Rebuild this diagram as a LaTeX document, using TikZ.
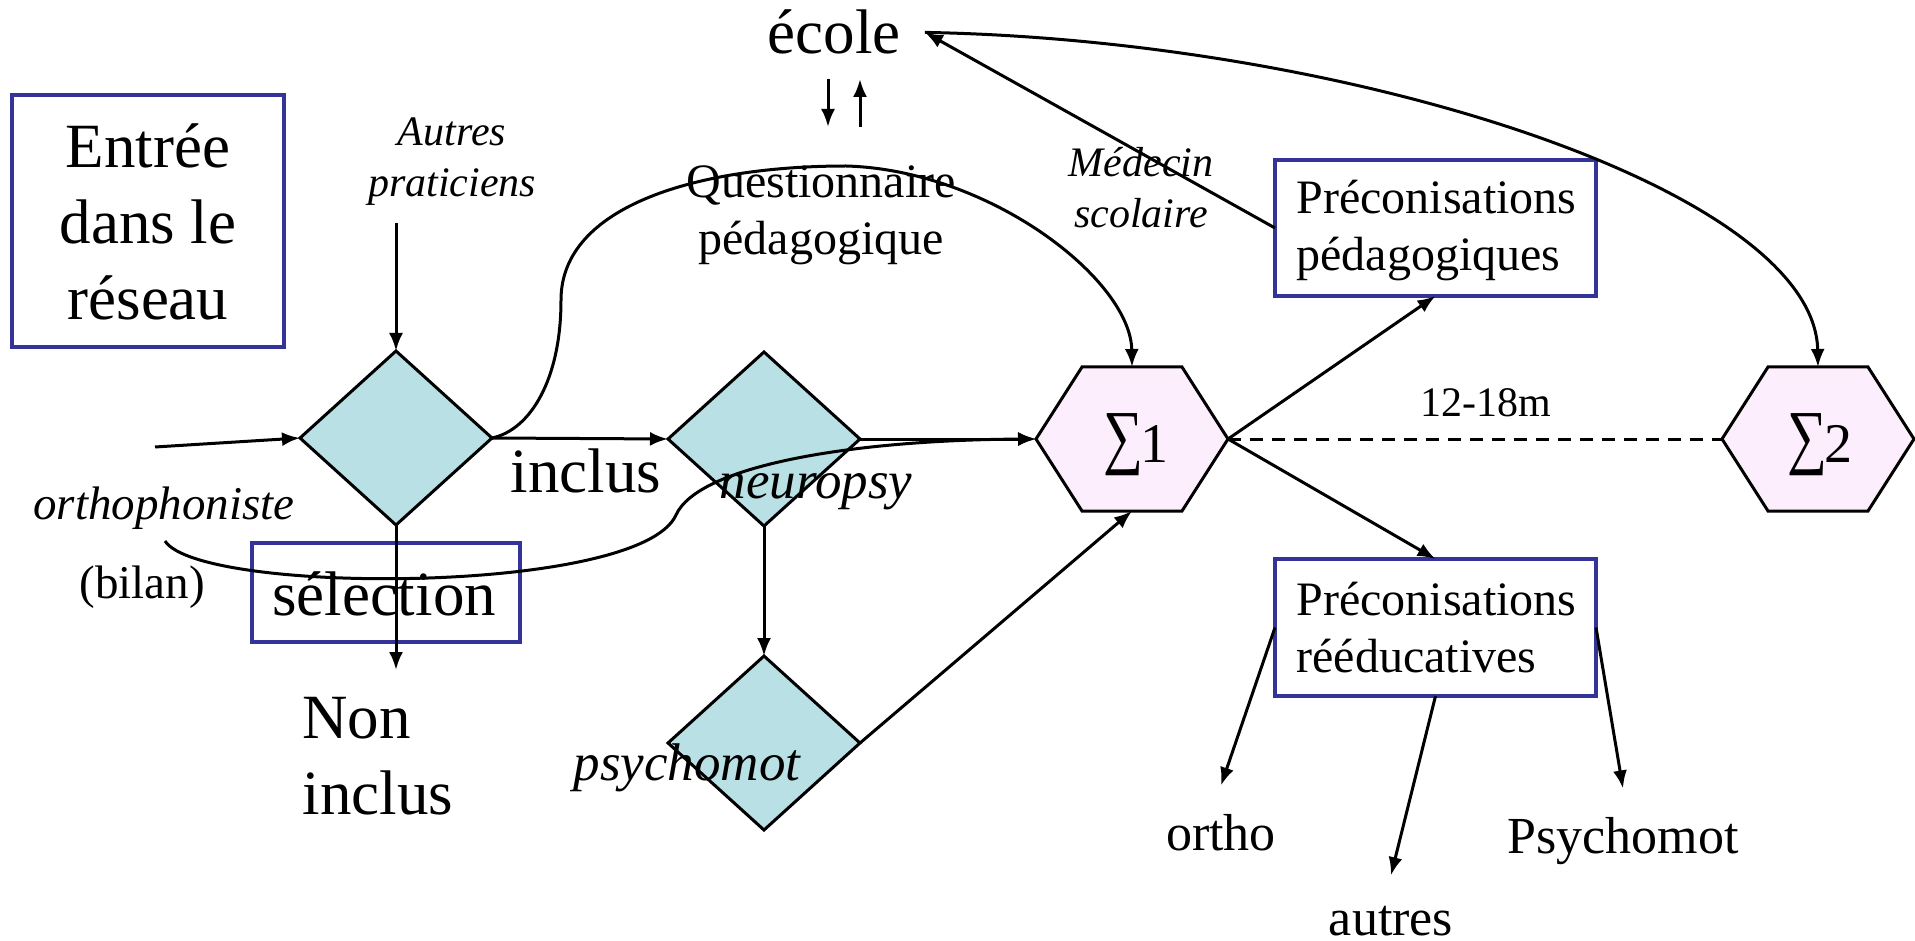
\documentclass[tikz,border=0pt]{standalone}
\usepackage{fontspec}
\setmainfont{Liberation Serif}
\usetikzlibrary{arrows.meta,shapes.geometric}
\definecolor{diafill}{RGB}{185,224,228}
\definecolor{hexfill}{RGB}{252,238,252}
\definecolor{boxblue}{RGB}{51,51,153}
\newcommand\szBig{\fontsize{63}{76}\selectfont}
\newcommand\szMid{\fontsize{48}{57}\selectfont}
\newcommand\szLab{\fontsize{42}{51}\selectfont\itshape}
\newcommand\szOrt{\fontsize{47}{56}\selectfont}
\newcommand\szNeu{\fontsize{53}{63}\selectfont\itshape}
\newcommand\szOut{\fontsize{52}{62}\selectfont}
\newcommand\szSig{\fontsize{56}{66}\selectfont}
\newcommand\bigsum{\raisebox{2pt}{\scalebox{1}[1.28]{∑}}\kern-3pt}
\newcommand\cstack[1]{\vtop{\halign{\hfil##\hfil\cr#1\crcr}}}
\newcommand\lstack[1]{\vtop{\halign{##\hfil\cr#1\crcr}}}
\newcommand\hexpath[1]{\draw[hexline] (#1.west) -- ([xshift=46pt]#1.north west) -- ([xshift=-46pt]#1.north east) -- (#1.east) -- ([xshift=-46pt]#1.south east) -- ([xshift=46pt]#1.south west) -- cycle;}
\begin{document}
\begin{tikzpicture}[x=1pt,y=-1pt, line width=3pt,
  >={Latex[length=18pt,width=14pt]},
  conn/.style={->},
  dashconn/.style={dash pattern=on 13pt off 9pt},
  dia/.style={diamond, draw, fill=diafill, minimum width=192pt, minimum height=174pt, inner sep=0pt, outer sep=0pt},
  hexbox/.style={rectangle, minimum width=192pt, minimum height=144pt, inner sep=0pt, outer sep=0pt},
  hexline/.style={draw, fill=hexfill},
  bluebox/.style={rectangle, draw=boxblue, line width=3.2pt, inner sep=0pt, outer sep=0pt},
  txt/.style={anchor=base, inner sep=0pt},
]
\fill[white] (0,0) rectangle (1915,941);
\useasboundingbox (0,0) rectangle (1915,941);

% shapes
\node[dia] (d1) at (396,438) {};
\node[dia] (d2) at (764,439) {};
\node[dia] (d3) at (764,743) {};
\node[hexbox] (s1) at (1132,439) {};
\node[hexbox] (s2) at (1818,439) {};
\hexpath{s1}
\hexpath{s2}

% boxes
\node[bluebox, minimum width=272pt, minimum height=252pt] (entree) at (148,221) {};
\node[bluebox, minimum width=268pt, minimum height=99pt] (sel) at (386,592.5) {};
\node[bluebox, minimum width=321pt, minimum height=136pt] (pp) at (1435.5,228) {};
\node[bluebox, minimum width=321pt, minimum height=137pt] (pr) at (1435.5,627.5) {};

% texts
\node[txt] (entreeT) at (148,168) {\szBig\cstack{Entrée\cr dans le\cr réseau}};
\node[txt, inner sep=23pt] (ecole) at (834,54) {\szBig école};
\node[txt] (autresP) at (452,146) {\szLab\cstack{Autres\cr praticiens}};
\node[txt] (quest) at (821,198) {\szMid\cstack{Questionnaire\cr pédagogique}};
\node[txt] (medecin) at (1141,177) {\szLab\cstack{Médecin\cr scolaire}};
\node[txt, anchor=base west] (ppT) at (1295,214) {\szMid\lstack{Préconisations\cr pédagogiques}};
\node[txt] (inclus) at (586,492) {\szBig inclus};
\node[txt] (orthoph) at (164,519) {\szOrt\itshape orthophoniste};
\node[txt] (bilan) at (142,598) {\szOrt (bilan)};
\node[txt] (neuro) at (816,498) {\szNeu neuropsy};
\node[txt] (selT) at (384,615) {\szBig sélection};
\node[txt, anchor=base west] (noninc) at (301,738) {\szBig\lstack{Non\cr inclus}};
\node[txt] (psym) at (687,780) {\szNeu psychomot};
\node[txt] (duree) at (1486,416) {\fontsize{42}{50}\selectfont 12-18m};
\node[txt] (s1T) at (1136,462) {\szSig\bigsum 1};
\node[txt] (s2T) at (1820,462) {\szSig\bigsum 2};
\node[txt, anchor=base west] (prT) at (1295,615) {\szMid\lstack{Préconisations\cr rééducatives}};
\node[txt, inner sep=27pt] (ortho) at (1221,850) {\szOut ortho};
\node[txt, inner sep=29pt] (autres) at (1391,935) {\szOut autres};
\node[txt, inner sep=27pt] (psy) at (1623,853) {\szOut Psychomot};

% free ends
\coordinate (cAutres) at (396,223);
\coordinate (cEntry) at (155,447);
\coordinate (cNon) at (396,670);
\coordinate (cOrtho) at (165,541);
\coordinate (cDownA) at (828,79);
\coordinate (cDownB) at (828,127);
\coordinate (cUpA) at (860,127);
\coordinate (cUpB) at (860,79);

% connectors
\draw[conn] (cAutres) -- (d1.north);
\draw[conn] (cEntry) -- (d1.west);
\draw[conn] (d1.south) -- (cNon);
\draw[conn] (d1.east) -- (d2.west);
\draw[conn] (d2.east) -- (s1.west);
\draw[conn] (d2.south) -- (d3.north);
\draw[conn] (d3.east) -- (s1.south);
\draw[conn] (d1.east) .. controls (530,430) and (561,380) .. (561,300)
  .. controls (561,205) and (700,166) .. (846,166)
  .. controls (990,170) and (1131,280) .. (s1.north);
\draw[conn] (cOrtho) .. controls (200,595) and (640,595) .. (676,515)
  .. controls (698,466) and (850,440) .. (s1.west);
\draw[conn] (s1.east) -- (pp.south);
\draw[conn] (s1.east) -- (pr.north);
\draw[conn] (pp.west) -- (ecole.east);
\draw[conn] (ecole.east) .. controls (1350,40) and (1815,190) .. (s2.north);
\draw[dashconn] (s1.east) -- (s2.west);
\draw[conn] (pr.west) -- (ortho.north);
\draw[conn] (pr.south) -- (autres.north);
\draw[conn] (pr.east) -- (psy.north);
\draw[conn] (cDownA) -- (cDownB);
\draw[conn] (cUpA) -- (cUpB);
\end{tikzpicture}
\end{document}
